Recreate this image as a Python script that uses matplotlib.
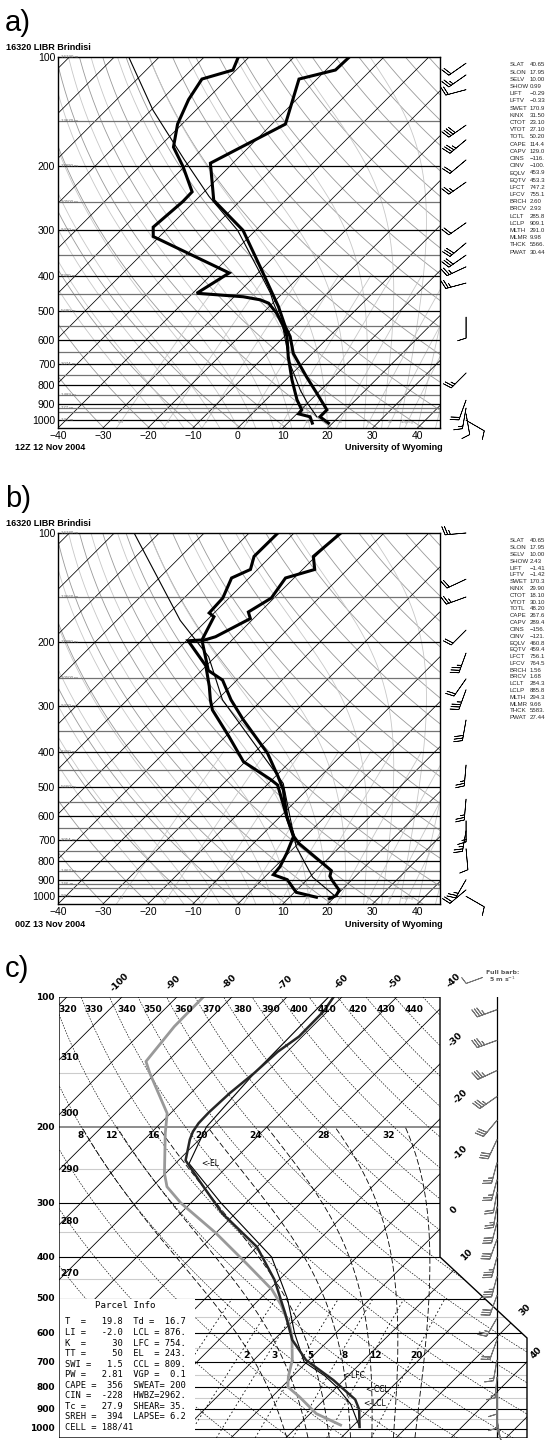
import numpy as np
import matplotlib
matplotlib.use("Agg")
import matplotlib.pyplot as plt
from matplotlib.patches import Polygon, Rectangle

W, H = 545, 1440

# ---- a) 12Z 12 Nov 2004, Brindisi
a_t_p = [100, 108.6, 115, 153, 196, 248, 300, 386, 447, 486, 552, 588, 655, 759, 843, 918, 936, 978, 1018]
a_t_T = [-57.7, -57.9, -64.0, -57.0, -65.0, -56.0, -42.8, -29.8, -22.3, -18.0, -12.0, -8.7, -4.2, 3.9, 9.9, 14.7, 15.8, 15.8, 19.1]
a_td_p = [100, 108.6, 115, 131, 153, 177, 200, 235, 250, 294, 312, 393, 447, 457, 466, 476, 508, 552, 588, 667, 773, 878, 936, 960, 978, 1018]
a_td_T = [-82.4, -80.7, -85.6, -84.0, -81.0, -76.8, -70.4, -62.7, -62.6, -63.5, -61.4, -36.4, -39.1, -28.0, -23.5, -20.9, -16.8, -12.4, -9.4, -4.7, 1.3, 6.9, 10.2, 10.4, 13.6, 15.5]
a_pc_p = [100, 140, 192, 242, 300, 386, 447, 476, 541, 697, 826, 899, 978]
a_pc_T = [-106.8, -89.6, -71.5, -57.9, -44.0, -30.5, -22.7, -19.8, -13.4, -2.8, 5.5, 10.1, 15.1]
a_w_p = [104, 112, 123, 154, 169, 192, 221, 286, 325, 351, 378, 419, 520, 741, 880, 925, 960, 1000]
a_w_d = [235, 235, 255, 235, 230, 230, 235, 235, 230, 235, 245, 255, 180, 225, 200, 190, 170, 120]
a_w_s = [20, 25, 20, 40, 35, 20, 25, 20, 30, 30, 25, 25, 10, 25, 20, 15, 10, 10]
a_h_p = [100, 150, 200, 250, 300, 400, 500, 700, 850, 925, 1000]
a_h_lab = ["16190 m", "13670 m", "11890 m", "10500 m", "9310 m", "7320 m", "5680 m", "3074 m", "1489 m", "777 m", "124 m"]
a_idx = ["40.65", "17.95", "10.00", "0.99", "−0.29", "−0.33", "170.9", "31.50", "23.10", "27.10", "50.20",
         "114.4", "129.0", "−116.", "−100.", "453.9", "453.3", "747.2", "755.1", "2.60", "2.93", "285.8",
         "909.1", "291.0", "9.98", "5566.", "30.44"]

# ---- b) 00Z 13 Nov 2004, Brindisi
b_t_p = [100, 116, 126, 133, 151, 165, 172, 193, 198, 239, 254, 288, 327, 404, 468, 510, 604, 685, 715, 829, 850, 880, 900, 920, 962, 996, 1015]
b_t_T = [-59.6, -60.5, -57.3, -61.9, -60.6, -62.6, -60.7, -64.4, -66.5, -58.5, -53.2, -46.9, -39.7, -26.9, -19.4, -15.2, -8.5, -2.5, 0.1, 11.5, 13.4, 14.3, 15.5, 16.8, 19.5, 20.0, 19.2]
b_td_p = [100, 116, 126, 133, 151, 166, 170, 197, 198, 232, 264, 288, 307, 364, 426, 478, 494, 604, 685, 761, 829, 872, 900, 975, 1006]
b_td_T = [-73.6, -73.7, -71.6, -73.9, -71.4, -71.1, -69.2, -66.7, -69.6, -60.1, -54.8, -51.5, -48.8, -39.1, -30.4, -20.2, -17.6, -8.5, -2.6, -0.4, 1.1, 1.4, 5.6, 10.4, 16.0]
b_pc_p = [100, 174, 219, 288, 489, 604, 731, 886, 1000]
b_pc_T = [-105.6, -75.9, -61.5, -48.8, -16.7, -7.8, 0.3, 10.7, 20.0]
b_w_p = [100, 134, 150, 185, 214, 252, 270, 327, 435, 540, 620, 660, 740, 900, 960, 1000]
b_w_d = [265, 245, 250, 225, 200, 215, 200, 190, 185, 185, 180, 190, 175, 210, 230, 120]
b_w_s = [25, 20, 25, 20, 35, 20, 35, 30, 25, 25, 15, 25, 10, 25, 20, 10]
b_h_p = [100, 150, 200, 250, 300, 400, 500, 700, 850, 925, 1000]
b_h_lab = ["16180 m", "13660 m", "11880 m", "10500 m", "9310 m", "7310 m", "5660 m", "3054 m", "1462 m", "746 m", "99 m"]
b_idx = ["40.65", "17.95", "10.00", "2.43", "−1.41", "−1.42", "170.3", "29.90", "18.10", "30.10", "48.20",
         "267.6", "289.4", "−156.", "−121.", "460.8", "459.4", "756.1", "764.5", "1.56", "1.68", "284.3",
         "885.8", "294.3", "9.66", "5583.", "27.44"]

idx_names = ["SLAT", "SLON", "SELV", "SHOW", "LIFT", "LFTV", "SWET", "KINX", "CTOT", "VTOT", "TOTL",
             "CAPE", "CAPV", "CINS", "CINV", "EQLV", "EQTV", "LFCT", "LFCV", "BRCH", "BRCV", "LCLT",
             "LCLP", "MLTH", "MLMR", "THCK", "PWAT"]
mix_ratios = [0.4, 1, 2, 4, 7, 10, 16, 24, 32, 40]

# ---- c) model / NSHARP style sounding
c_t_p = [100, 108, 123.5, 133.9, 150, 167, 185, 196, 205, 214, 239, 265, 317, 379, 452, 540, 622, 693, 771, 855, 901, 990]
c_t_T = [-61.5, -60.7, -60.6, -61.7, -62.1, -62.9, -63.2, -63.1, -62.6, -61.7, -58.7, -52.8, -42.4, -30.0, -20.8, -12.8, -6.7, -0.5, 8.1, 15.6, 18.1, 21.4]
c_td_p = [100, 117, 141, 150, 186, 207, 256, 275, 300, 352, 414, 476, 517, 580, 612, 693, 757, 800, 842, 922, 980]
c_td_T = [-85.2, -85.1, -83.9, -81.1, -70.6, -67.3, -60.2, -57.3, -51.8, -40.0, -28.9, -19.5, -15.0, -9.5, -7.3, -3.0, -0.7, 1.1, 4.9, 11.1, 17.6]
c_pc_p = [100, 148, 175, 200, 243, 300, 400, 500, 600, 700, 754, 800, 876, 990]
c_pc_T = [-62.4, -62.1, -61.5, -61.0, -57.5, -44.5, -25.5, -15.0, -7.5, -0.5, 5.8, 10.0, 15.6, 21.4]
c_w_p = [107, 126, 148, 170, 193, 214, 242, 265, 283, 306, 333, 364, 400, 444, 491, 554, 622, 693, 758, 826, 890, 952, 1000]
c_w_d = [250, 250, 245, 235, 220, 205, 195, 195, 190, 190, 195, 200, 195, 195, 200, 210, 200, 190, 185, 180, 180, 170, 160]
c_w_s = [17.5, 17.5, 17.5, 17.5, 15, 15, 12.5, 12.5, 10, 12.5, 15, 15, 17.5, 17.5, 15, 12.5, 10, 7.5, 7.5, 5, 5, 5, 5]
c_iso_lab = [-100, -90, -80, -70, -60, -50, -40, -30, -20, -10, 0, 10, 30, 40]
c_th_lab = [320, 330, 340, 350, 360, 370, 380, 390, 400, 410, 420, 430, 440, 310, 300, 290, 280, 270]
c_ma_lab = [8, 12, 16, 20, 24, 28, 32]
c_mr_lab = [2, 3, 5, 8, 12, 20]
c_mr_lines = [0.4, 1, 2, 3, 5, 8, 12, 20]
parcel_rows = [("T  =", "19.8", "Td =", "16.7"), ("LI =", "-2.0", "LCL =", "876."),
               ("K  =", "30", "LFC =", "754."), ("TT =", "50", "EL  =", "243."),
               ("SWI =", "1.5", "CCL =", "809."), ("PW =", "2.81", "VGP =", "0.1"),
               ("CAPE =", "356", "SWEAT=", "200"), ("CIN =", "-228", "HWBZ=", "2962."),
               ("Tc =", "27.9", "SHEAR=", "35."), ("SREH =", "394", "LAPSE=", "6.2")]
parcel_cell = "CELL = 188/41"
c_marks = ["<-EL", "<-LFC", "<-CCL", "<-LCL"]

plt.rcParams['font.family'] = ['Liberation Sans', 'DejaVu Sans']
fig = plt.figure(figsize=(W / 100, H / 100), dpi=100)


def pax(l, t, r, b):
    return fig.add_axes([l / W, 1 - b / H, (r - l) / W, (b - t) / H])


def ftext(x, y, s, **kw):
    kw.setdefault('va', 'center')
    fig.text(x / W, 1 - y / H, s, **kw)


def moist(t0, p):
    # pseudo-adiabat by simple stepping
    T = t0 + 273.15
    out = [T]
    for p1, p2 in zip(p[:-1], p[1:]):
        es = 6.112 * np.exp(17.67 * (T - 273.15) / (T - 29.65))
        rs = 0.622 * es / (p1 - es)
        g = (287.04 * T + 2.501e6 * rs) / (1005.7 + 2.501e6 ** 2 * rs * 0.622 / (287.04 * T * T)) / p1
        T = T + g * (p2 - p1)
        out.append(T)
    return np.array(out) - 273.15


def dewpt_w(w, p):
    e = w * p / (622 + w)
    a = np.log(e / 6.112)
    return 243.5 * a / (17.67 - a)


def uv(d, s):
    d = np.radians(d)
    s = np.asarray(s, float)
    return -s * np.sin(d), -s * np.cos(d)


def wyoming(top, t_p, t_T, td_p, td_T, pc_p, pc_T, w_p, w_d, w_s, h_p, h_lab, idx, tag, date, dy):
    ax = pax(58, top, 440, top + 371)
    sk = lambda t, p: np.asarray(t) + 35.1 * np.log(1050 / np.asarray(p))
    ax.set_yscale('log')
    ax.set_xlim(-40, 45)
    ax.set_ylim(1050, 100)
    pp = np.geomspace(1050, 100, 300)
    for th in range(230, 520, 10):
        tt = th * (pp / 1000) ** 0.2857 - 273.15
        ax.plot(sk(tt, pp), pp, color='0.6', lw=0.6)
    for t0 in range(-16, 48, 4):
        ax.plot(sk(moist(t0, pp), pp), pp, color='0.78', lw=0.6)
    pm = np.geomspace(1050, 400, 40)
    for w in mix_ratios:
        ax.plot(sk(dewpt_w(w, pm), pm), pm, color='0.78', lw=0.6)
        ax.text(sk(dewpt_w(w, 1010), 1010), 1010, str(w) + ('g/kg' if w == 40 else ''),
                color='0.6', fontsize=3.2, ha='center', va='center', clip_on=True)
    for t in range(-160, 50, 10):
        ax.plot(sk(t, pp), pp, color='k', lw=0.55)
    for p in list(range(150, 1000, 50)) + [925, 1000]:
        ax.axhline(p, color='k' if p % 100 == 0 else '0.45', lw=0.9)
    for p, s in zip(h_p, h_lab):
        ax.text(-39.3, p, s, fontsize=3.2, color='0.4', va='center', ha='left')
    ax.plot(sk(pc_T, pc_p), pc_p, color='k', lw=0.8)
    ax.plot(sk(td_T, td_p), td_p, color='k', lw=2.2, solid_joinstyle='miter')
    ax.plot(sk(t_T, t_p), t_p, color='k', lw=2.2, solid_joinstyle='miter')
    u, v = uv(w_d, w_s)
    ax.barbs(np.full(len(w_p), 50.8), w_p, u, v, length=5.5, lw=0.5, color='k', clip_on=False)
    ax.yaxis.set_minor_locator(matplotlib.ticker.NullLocator())
    ax.set_yticks(range(100, 1001, 100), [str(p) for p in range(100, 1001, 100)])
    ax.set_xticks(range(-40, 41, 10))
    ax.tick_params(length=0, labelsize=7.5, pad=2)
    for s in ax.spines.values():
        s.set_linewidth(1.0)
    ftext(5, top - 34, tag, fontsize=21)
    ftext(6, top - 9, "16320 LIBR Brindisi", fontsize=6.5, fontweight='bold')
    ftext(15, top + 391, date, fontsize=6.5, fontweight='bold')
    ftext(443, top + 391, "University of Wyoming", fontsize=6.5, fontweight='bold', ha='right')
    for i, (n, v) in enumerate(zip(idx_names, idx)):
        ftext(510, top + 8 + i * dy, n, fontsize=4.4, color='0.15')
        ftext(530, top + 8 + i * dy, v, fontsize=4.4, color='0.15')


wyoming(57, a_t_p, a_t_T, a_td_p, a_td_T, a_pc_p, a_pc_T, a_w_p, a_w_d, a_w_s, a_h_p, a_h_lab, a_idx,
        "a)", "12Z 12 Nov 2004", 7.2)
wyoming(533, b_t_p, b_t_T, b_td_p, b_td_T, b_pc_p, b_pc_T, b_w_p, b_w_d, b_w_s, b_h_p, b_h_lab, b_idx,
        "b)", "00Z 13 Nov 2004", 6.8)

# ---- panel c
X0, SC = 240.0, 5.5          # pixel of 0 degC at 1000 hPa, px per degC
axc = pax(59, 997, 545, 1438)
skc = lambda t, p: np.asarray(t) + 34.1 * np.log(1000 / np.asarray(p))
axc.set_yscale('log')
axc.set_xlim((59 - X0) / SC, (545 - X0) / SC)
axc.set_ylim(1050, 100)
axc.axis('off')
xl, xr, xr2 = (59 - X0) / SC, (440 - X0) / SC, (527 - X0) / SC
frame = Polygon([[xl, 100], [xr, 100], [xr, 400], [xr2, 616], [xr2, 1050], [xl, 1050]],
                closed=True, fill=False, ec='k', lw=1.0, transform=axc.transData, zorder=6)
axc.add_patch(frame)


def cl(lines):
    for ln in lines:
        ln.set_clip_path(frame)


pp = np.geomspace(1050, 100, 300)
for p in [150, 250, 350, 450, 550, 650, 750, 850, 950]:
    cl(axc.plot([xl, xr2], [p, p], color='0.8', lw=0.8))
for p in [300, 400, 500, 600, 700, 800, 900, 1000]:
    cl(axc.plot([xl, xr2], [p, p], color='k', lw=0.8))
cl(axc.plot([xl, xr2], [200, 200], color='0.55', lw=1.4))
for t in range(-160, 70, 10):
    cl(axc.plot(skc(t, pp), pp, color='k', lw=0.6))
for th in range(250, 470, 10):
    tt = th * (pp / 1000) ** 0.2857 - 273.15
    cl(axc.plot(skc(tt, pp), pp, color='k', lw=0.45, dashes=(2.5, 2)))
pu = np.geomspace(1000, 200, 200)
pd = np.geomspace(1000, 1050, 6)
for tw in c_ma_lab:
    pm = np.concatenate([pd[::-1], pu[1:]])
    tm = np.concatenate([moist(tw, pd)[::-1], moist(tw, pu)[1:]])
    cl(axc.plot(skc(tm, pm), pm, color='k', lw=0.6, dashes=(7, 3)))
pw = np.geomspace(1050, 500, 40)
for w in c_mr_lines:
    cl(axc.plot(skc(dewpt_w(w, pw), pw), pw, color='k', lw=0.6, dashes=(2, 3)))

axc.add_patch(Rectangle((0, 0), (195 - 59) / 486, (1438 - 1298.5) / 441, transform=axc.transAxes,
                        fc='white', ec='none', zorder=4))

axc.plot(skc(c_td_T, c_td_p), c_td_p, color='0.6', lw=2.0, zorder=5)
axc.plot(skc(c_pc_T, c_pc_p), c_pc_p, color='k', lw=0.8, zorder=5)
axc.plot(skc(c_t_T, c_t_p), c_t_p, color='0.15', lw=1.8, zorder=5)

xs = (497 - X0) / SC
axc.plot([xs, xs], [100, 1050], color='k', lw=0.9, zorder=6)
u, v = uv(c_w_d, c_w_s)
axc.barbs(np.full(len(c_w_p), xs), c_w_p, u, v, length=5.5, lw=0.7, color='0.45', zorder=6,
          barb_increments=dict(half=2.5, full=5, flag=25), clip_on=False)
u, v = uv([250], [5])
axc.barbs([(482 - X0) / SC], [90], u, v, length=5, lw=0.6, color='0.45', clip_on=False,
          barb_increments=dict(half=2.5, full=5, flag=25))

cf = dict(fontsize=6.5, fontweight='bold', family='DejaVu Sans')
for p in range(100, 1001, 100):
    ftext(55, 997 + 187.6 * np.log(p / 100), str(p), ha='right', **cf)
iso_pos = [(120, 982), (173, 982), (229, 982), (285, 982), (341, 982), (395, 982), (453, 980),
           (455, 1040), (460, 1097), (460, 1153), (454, 1210), (467, 1255), (525, 1310), (536, 1353)]
for lab, (x, y) in zip(c_iso_lab, iso_pos):
    ftext(x, y, str(lab), rotation=45, ha='center', **cf)
th_pos = [(68, 1010), (94, 1010), (127, 1010), (153, 1010), (184, 1010), (212, 1010), (243, 1010),
          (271, 1010), (299, 1010), (327, 1010), (358, 1010), (386, 1010), (414, 1010),
          (70, 1057), (70, 1113), (70, 1170), (70, 1222), (70, 1273)]
for lab, (x, y) in zip(c_th_lab, th_pos):
    ftext(x, y, str(lab), ha='center', **cf)
ma_x = [81, 111, 153, 201, 256, 323, 389]
for lab, x in zip(c_ma_lab, ma_x):
    ftext(x, 1135, str(lab), ha='center', **cf)
mr_x = [246, 274, 310, 345, 375, 416]
for lab, x in zip(c_mr_lab, mr_x):
    ftext(x, 1355, str(lab), ha='center', **cf)
mk_pos = [(201, 1164), (342, 1376), (365, 1389), (363, 1404)]
for s, (x, y) in zip(c_marks, mk_pos):
    ftext(x, y, s, fontsize=5.5, family='DejaVu Sans')
ftext(486, 972, "Full barb:", fontsize=4.5, fontweight='bold', color='0.35', family='DejaVu Sans')
ftext(489, 979, "5 m s$^{-1}$", fontsize=4.5, fontweight='bold', color='0.35', family='DejaVu Sans')

mono = dict(fontsize=6.3, family='DejaVu Sans Mono')
ftext(125, 1306, "Parcel Info", ha='center', fontsize=6.6, family='DejaVu Sans Mono')
for i, (a, b, c, d) in enumerate(parcel_rows):
    line = a + b.rjust(11 - len(a)) + "  " + c + d.rjust(10 - len(c))
    ftext(65, 1322 + i * 10.55, line, **mono)
ftext(65, 1427.5, parcel_cell, **mono)
ftext(5, 969, "c)", fontsize=21)

fig.savefig("out.png", dpi=100)
